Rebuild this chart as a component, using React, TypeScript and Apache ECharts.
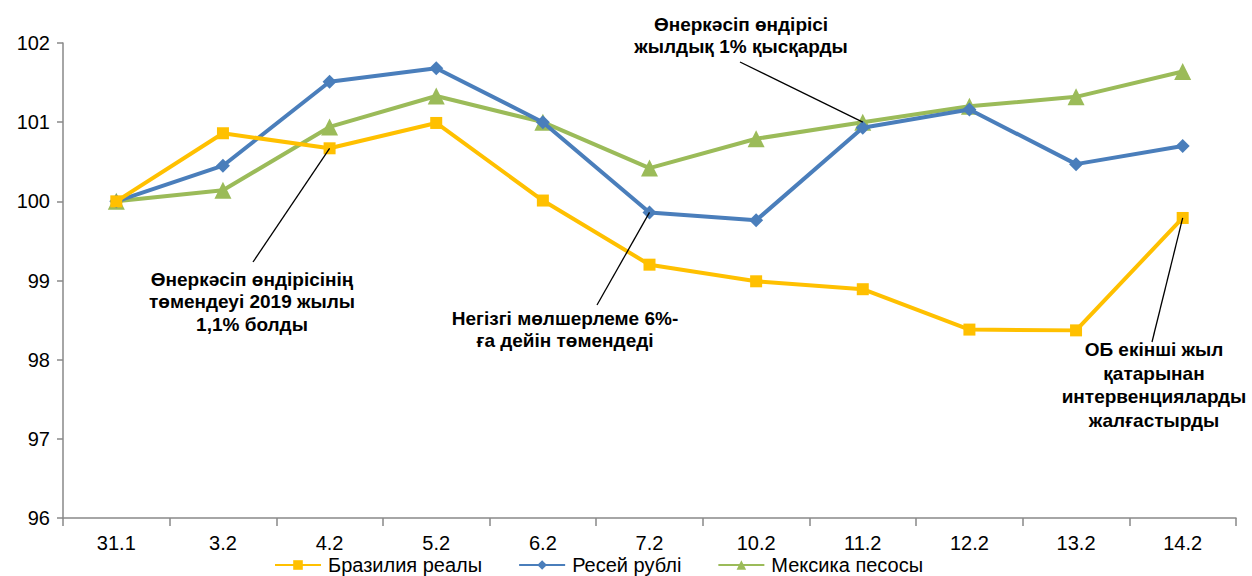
import React, { useEffect, useRef } from "react";
import * as echarts from "echarts";

const categories = ["31.1", "3.2", "4.2", "5.2", "6.2", "7.2", "10.2", "11.2", "12.2", "13.2", "14.2"];
const brazil = [100.0, 100.86, 100.67, 100.99, 100.01, 99.2, 98.99, 98.89, 98.38, 98.37, 99.79];
const russia = [100.0, 100.45, 101.51, 101.68, 101.0, 99.86, 99.76, 100.93, 101.16, 100.47, 100.7];
const mexico = [100.0, 100.14, 100.94, 101.33, 101.0, 100.42, 100.79, 101.0, 101.2, 101.32, 101.64];
const seriesNames = ["Бразилия реалы", "Ресей рублі", "Мексика песосы"];
const yTicks = { min: 96, max: 102, interval: 1 };

const notes = [
  { text: "Өнеркәсіп өндірісінің\nтөмендеуі 2019 жылы\n1,1% болды", series: 0, idx: 2 },
  { text: "Негізгі мөлшерлеме 6%-\nға дейін төмендеді", series: 1, idx: 5 },
  { text: "Өнеркәсіп өндірісі\nжылдық 1% қысқарды", series: 2, idx: 7 },
  { text: "ОБ екінші жыл\nқатарынан\nинтервенцияларды\nжалғастырды", series: 0, idx: 10 },
];
// layout of the annotation boxes (pixels)
const noteLayout = [
  { x: 252, y: 268, lh: 22.5, sx: 253, sy: 262 },
  { x: 565, y: 308, lh: 21.5, sx: 597, sy: 305 },
  { x: 741, y: 13, lh: 22, sx: 740, sy: 62 },
  { x: 1154, y: 338, lh: 23.5, sx: 1152, sy: 342 },
];

const FONT = '"Liberation Sans", Arial, sans-serif';

export default function App() {
  const ref = useRef<HTMLDivElement>(null);
  useEffect(() => {
    if (!ref.current) return;
    const chart = echarts.init(ref.current, undefined, { renderer: "svg" });
    const data = [brazil, russia, mexico];
    const colors = ["#FFC000", "#4A7EBB", "#9BBB59"];
    const symbols = ["rect", "diamond", "triangle"];
    const sizes = [12, 14, 17];
    chart.setOption({
      animation: false,
      textStyle: { fontFamily: FONT },
      grid: { left: 63, right: 16, top: 43, bottom: 58 },
      legend: {
        top: 555,
        left: 274,
        itemWidth: 46,
        itemHeight: 12,
        itemGap: 36,
        padding: 0,
        textStyle: { fontSize: 20, color: "#000", fontFamily: FONT, padding: [0, 0, 0, 2] },
        data: seriesNames,
      },
      xAxis: {
        type: "category",
        data: categories,
        boundaryGap: true,
        axisLine: { lineStyle: { color: "#898989", width: 1.5 } },
        axisTick: { show: true, length: 8, lineStyle: { color: "#898989", width: 1.5 } },
        axisLabel: { fontSize: 20, color: "#000", margin: 15 },
        splitLine: { show: false },
      },
      yAxis: {
        type: "value",
        min: yTicks.min,
        max: yTicks.max,
        interval: yTicks.interval,
        axisLine: { show: true, lineStyle: { color: "#898989", width: 1.5 } },
        axisTick: { show: true, length: 6, lineStyle: { color: "#898989", width: 1.5 } },
        axisLabel: { fontSize: 20, color: "#000", margin: 13 },
        splitLine: { show: false },
      },
      series: data.map((d, i) => ({
        name: seriesNames[i],
        type: "line",
        data: d,
        symbol: symbols[i],
        symbolSize: sizes[i],
        showAllSymbol: true,
        z: 3 - i,
        lineStyle: { color: colors[i], width: 4 },
        itemStyle: { color: colors[i] },
      })),
    });
    const graphics: any[] = [];
    notes.forEach((n, i) => {
      const L = noteLayout[i];
      const d = data[n.series][n.idx];
      const p = chart.convertToPixel({ gridIndex: 0 }, [n.idx, d]) as number[];
      graphics.push({
        type: "line",
        z: 100,
        shape: { x1: L.sx, y1: L.sy, x2: p[0], y2: p[1] },
        style: { stroke: "#000", lineWidth: 1.3 },
      });
      graphics.push({
        type: "text",
        z: 100,
        x: L.x,
        y: L.y,
        style: {
          text: n.text,
          textAlign: "center",
          textVerticalAlign: "top",
          font: `bold 19px ${FONT}`,
          lineHeight: L.lh,
          fill: "#000",
        },
      });
    });
    chart.setOption({ graphic: graphics });
    return () => chart.dispose();
  }, []);
  return <div ref={ref} style={{ width: 1252, height: 576, position: "absolute", left: 0, top: 0 }} />;
}
